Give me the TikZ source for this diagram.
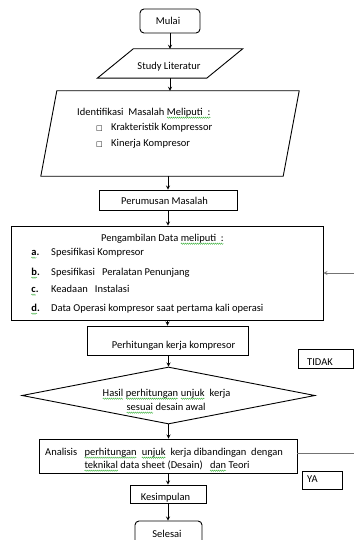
\documentclass[tikz,border=0pt]{standalone}
\usepackage{fontspec}
\setmainfont{Carlito}
\newfontfamily\simbol{DejaVu Sans}
\usetikzlibrary{shapes.geometric,decorations.pathmorphing}

% garis bergelombang hijau di bawah kata
\newcommand{\ejaan}[1]{\tikz[baseline=(w.base)]{\node[inner sep=0pt,outer sep=0pt] (w) {#1};
  \draw[green!60!black!80, line width=0.35pt, decorate, decoration={snake, amplitude=0.7pt, segment length=2pt}]
    ([yshift=-2.2pt]w.base west) -- ([yshift=-2.2pt]w.base east);}}
\newcommand{\kotakcek}{{\simbol\fontsize{7}{7}\selectfont □}}

\begin{document}
\begin{tikzpicture}[>=stealth, x=1pt, y=-1pt,
    kotak/.style={draw, line width=0.9pt, inner sep=0pt},
    teks/.style={inner sep=0pt, font=\fontsize{10.5}{12.6}\selectfont},
    panah/.style={->, line width=0.8pt},
    balik/.style={line width=0.8pt, black!55}]
    \useasboundingbox (0,0) rectangle (354,540);

    % Mulai
    \node[kotak, rounded corners=4pt, minimum width=60pt, minimum height=24pt] (mulai) at (170,21) {};
    \node[teks, anchor=base] (tmulai) at (168,25) {Mulai};

    % Study Literatur
    \node[inner sep=0pt, minimum width=109pt, minimum height=29pt] (lit) at (170,63.5) {};
    \draw[line width=0.9pt] ([xshift=18pt]lit.north west) -- ([xshift=18pt]lit.north east)
        -- ([xshift=-18pt]lit.south east) -- ([xshift=-18pt]lit.south west) -- cycle;
    \node[teks, anchor=base] (tlit) at (169,69.5) {Study Literatur};

    % Identifikasi masalah
    \node[inner sep=0pt, minimum width=242pt, minimum height=85pt] (idm) at (170,133.5) {};
    \draw[line width=0.9pt] ([xshift=8pt]idm.north west) -- ([xshift=8pt]idm.north east)
        -- ([xshift=-8pt]idm.south east) -- ([xshift=-8pt]idm.south west) -- cycle;
    \node[teks, anchor=base west] (tidm) at (77,115.5) {Identifikasi\ \ Masalah \ejaan{Meliputi\ \ :}};
    \node[teks, anchor=base west] (cek-1) at (96,130.5) {\kotakcek};
    \node[teks, anchor=base west] (isi-1) at (111,130.5) {Krakteristik\ Kompressor};
    \node[teks, anchor=base west] (cek-2) at (96,146.5) {\kotakcek};
    \node[teks, anchor=base west] (isi-2) at (111,146.5) {Kinerja Kompresor};

    % Perumusan masalah
    \node[kotak, minimum width=138pt, minimum height=20pt] (rumus) at (168,200) {};
    \node[teks, anchor=base] (trumus) at (164.5,204.5) {Perumusan Masalah};

    % Pengambilan data
    \node[kotak, minimum width=312pt, minimum height=94pt] (ambil) at (167,273) {};
    \node[teks, anchor=base] (tambil) at (162.5,241.5) {Pengambilan\ Data \ejaan{meliputi\ \ :}};
    \foreach \h/\y/\isi in {a/255.5/Spesifikasi Kompresor,
                            b/275.5/Spesifikasi\ \ \ Peralatan Penunjang,
                            c/292.5/Keadaan\ \ \ Instalasi,
                            d/311.5/Data Operasi kompresor saat pertama kali operasi} {
        \node[teks, anchor=base west] (huruf-\h) at (31,\y) {\ejaan{\textbf{\h}}\textbf{.}};
        \node[teks, anchor=base west] (data-\h) at (51,\y) {\isi};
    }

    % Perhitungan
    \node[kotak, minimum width=161pt, minimum height=29pt] (hitung) at (167.5,340.5) {};
    \node[teks, anchor=base] (thitung) at (173.5,348) {Perhitungan\ kerja kompresor};

    % Keputusan
    \node[kotak, diamond, aspect=5.14, minimum width=293pt, minimum height=57pt] (cek) at (168.5,395.5) {};
    \node[teks, anchor=base] (tcek-1) at (166.5,396.5) {\ejaan{Hasil}\ \ejaan{perhitungan}\ \ejaan{unjuk}\ \ kerja};
    \node[teks, anchor=base] (tcek-2) at (166,410.5) {\ejaan{sesuai} desain awal};

    % Analisis
    \node[kotak, minimum width=258pt, minimum height=34pt] (analisis) at (168,456) {};
    \node[teks, anchor=base] (tanalisis-1) at (164,455.5) {Analisis\ \ \ \ejaan{perhitungan}\ \ \ejaan{unjuk}\ \ kerja dibandingan\ \ dengan};
    \node[teks, anchor=base] (tanalisis-2) at (167,468.5) {\ejaan{teknikal} data sheet (Desain)\ \ \ \ejaan{dan} Teori};

    % Kesimpulan dan Selesai
    \node[kotak, minimum width=76pt, minimum height=18pt] (simpul) at (168,494) {};
    \node[teks, anchor=base] (tsimpul) at (165.5,500.5) {Kesimpulan};
    \node[kotak, rounded corners=4pt, minimum width=67pt, minimum height=24pt] (selesai) at (168.5,533) {};
    \node[teks, anchor=base] (tselesai) at (167,537.5) {Selesai};

    % Label TIDAK / YA
    \node[kotak, line width=0.8pt, minimum width=55pt, minimum height=19pt] (tidak) at (325.5,358.5) {};
    \node[teks, anchor=base west] (ttidak) at (307,365) {TIDAK};
    \node[kotak, line width=0.8pt, minimum width=40pt, minimum height=18pt] (ya) at (322,480) {};
    \node[teks, anchor=base west] (tya) at (307,482.5) {YA};

    % Panah alur
    \draw[panah] (mulai) -- (lit);
    \draw[panah] (lit) -- (idm);
    \draw[panah] (rumus.north |- idm.south) -- (rumus.north);
    \draw[panah] (rumus.south) -- (rumus.south |- ambil.north);
    \draw[panah] (hitung.north |- ambil.south) -- (hitung.north);
    \draw[panah] (cek.north |- hitung.south) -- (cek.north);
    \draw[panah] (cek.south) -- (cek.south |- analisis.north);
    \draw[panah] (analisis) -- (simpul);
    \draw[panah] (simpul.south) -- (simpul.south |- selesai.north);

    % Garis balik (TIDAK)
    \coordinate (tepi) at (354,0);
    \draw[balik] ([yshift=3pt]analisis.east) -- ([yshift=3pt]analisis.east -| tepi);
    \draw[balik, ->] (ambil.east -| tepi) -- (ambil.east);
\end{tikzpicture}
\end{document}
